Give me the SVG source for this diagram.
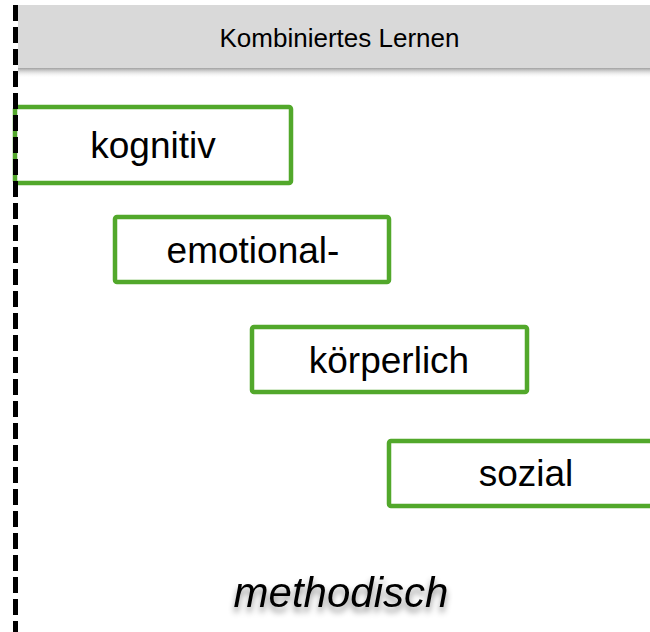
<svg xmlns="http://www.w3.org/2000/svg" width="650" height="632" viewBox="0 0 650 632">
  <defs>
    <style>
      .box { fill: #ffffff; stroke: #52a82b; stroke-width: 4.5; }
      .lbl { font-family: "Liberation Sans", Arial, Helvetica, sans-serif; font-size: 37px; fill: #000000; text-anchor: middle; }
      .hdr { font-family: "Liberation Sans", Arial, Helvetica, sans-serif; font-size: 26px; fill: #000000; text-anchor: middle; }
      .meth { font-family: "Liberation Sans", Arial, Helvetica, sans-serif; font-size: 42px; font-style: italic; fill: #000000; text-anchor: middle; }
    </style>
    <linearGradient id="hshadow" x1="0" y1="0" x2="0" y2="1">
      <stop offset="0" stop-color="#a0a0a0"/>
      <stop offset="1" stop-color="#ffffff" stop-opacity="0"/>
    </linearGradient>
    <filter id="tshadow" x="-10%" y="-30%" width="120%" height="180%">
      <feDropShadow dx="0" dy="5" stdDeviation="3" flood-color="#000000" flood-opacity="0.45"/>
    </filter>
  </defs>
  <rect width="650" height="632" fill="#ffffff"/>

  <g id="header">
    <rect x="18" y="68" width="632" height="10" fill="url(#hshadow)"/>
    <rect x="18" y="5" width="632" height="63" fill="#d9d9d9"/>
    <text class="hdr" x="339.5" y="47">Kombiniertes Lernen</text>
  </g>

  <g id="kognitiv">
    <rect class="box" x="15" y="107" width="276" height="76" rx="2"/>
    <text class="lbl" x="153" y="158">kognitiv</text>
  </g>

  <g id="emotional">
    <rect class="box" x="115" y="217" width="274" height="65" rx="2"/>
    <text class="lbl" x="253" y="263">emotional-</text>
  </g>

  <g id="koerperlich">
    <rect class="box" x="252" y="327" width="275" height="65" rx="2"/>
    <text class="lbl" x="389" y="373">körperlich</text>
  </g>

  <g id="sozial">
    <rect class="box" x="389" y="441" width="275" height="65" rx="2"/>
    <text class="lbl" x="526" y="486">sozial</text>
  </g>

  <g id="methodisch">
    <text class="meth" x="341" y="607" filter="url(#tshadow)">methodisch</text>
  </g>

  <g id="connectors">
    <line x1="15.5" y1="5" x2="15.5" y2="632" stroke="#000000" stroke-width="5" stroke-dasharray="16 6"/>
  </g>
</svg>
